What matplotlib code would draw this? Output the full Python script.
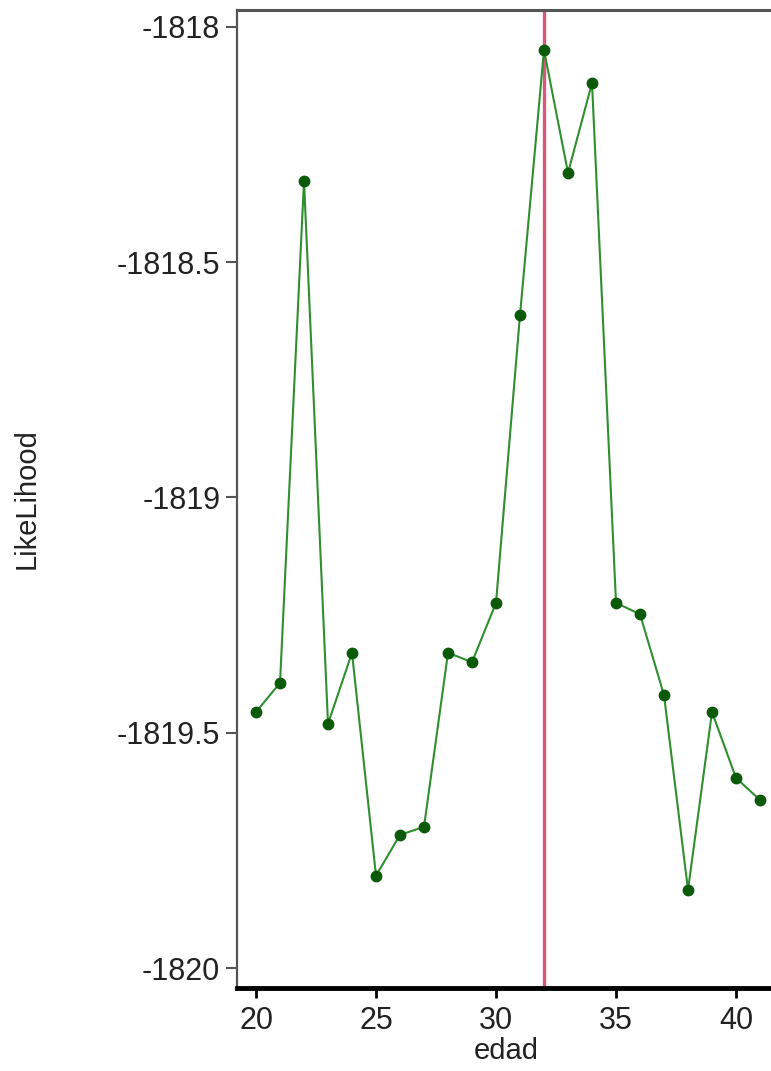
import matplotlib
matplotlib.use("Agg")
import matplotlib.pyplot as plt
from matplotlib.ticker import FuncFormatter

plt.rcParams['font.family'] = ['Liberation Sans', 'DejaVu Sans']
plt.rcParams['axes.unicode_minus'] = False

# age values and log-likelihood
edad = [20, 21, 22, 23, 24, 25, 26, 27, 28, 29, 30,
        31, 32, 33, 34, 35, 36, 37, 38, 39, 40, 41]
likelihood = [-1819.456, -1819.394, -1818.327, -1819.481, -1819.330, -1819.804,
              -1819.717, -1819.700, -1819.330, -1819.350, -1819.224, -1818.612,
              -1818.049, -1818.310, -1818.119, -1819.224, -1819.248, -1819.420,
              -1819.834, -1819.456, -1819.596, -1819.643]
best_edad = 32
x_ticks = [20, 25, 30, 35, 40]
y_ticks = [-1820, -1819.5, -1819, -1818.5, -1818]

fig = plt.figure(figsize=(7.71, 10.71), dpi=100)
ax = fig.add_axes([237 / 771, 1 - 988 / 1071, (775 - 237) / 771, (988 - 10) / 1071])

ax.axvline(best_edad, color='#d8577c', linewidth=2.4, zorder=1)
ax.plot(edad, likelihood, color='#2f8f2f', linewidth=1.5, zorder=2)
ax.plot(edad, likelihood, linestyle='none', marker='o', markersize=7.5,
        color='#0a5a0a', zorder=3)

ax.set_xlim(19.208, 41.625)
ax.set_ylim(-1820.0425, -1817.9639)
ax.set_xticks(x_ticks)
ax.set_yticks(y_ticks)
ax.yaxis.set_major_formatter(FuncFormatter(lambda v, p: f"{v:g}"))

ax.spines['right'].set_visible(False)
ax.spines['left'].set_color('#555555')
ax.spines['left'].set_linewidth(1.6)
ax.spines['top'].set_color('#555555')
ax.spines['top'].set_linewidth(2.2)
ax.spines['bottom'].set_color('black')
ax.spines['bottom'].set_linewidth(3.5)

ax.tick_params(axis='y', direction='out', length=8, width=1.5, color='#555555',
               labelsize=22, pad=4, labelcolor='#222222')
ax.tick_params(axis='x', direction='out', length=7, width=2, color='black',
               labelsize=22, pad=6, labelcolor='#222222')

ax.set_xlabel('edad', fontsize=21, labelpad=1, color='#222222')
ax.set_ylabel('LikeLihood', fontsize=21, color='#222222')
ax.yaxis.set_label_coords(-0.365, 0.5)

fig.savefig('out.png', dpi=100)
